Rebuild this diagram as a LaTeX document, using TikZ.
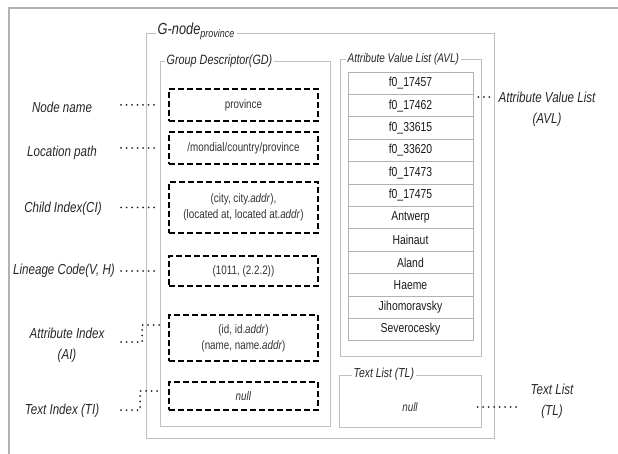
\documentclass[tikz,border=0pt]{standalone}
\usepackage{fontspec}
\setmainfont{Liberation Sans}[FakeStretch=0.8]
\usetikzlibrary{positioning,calc}

\begin{document}
\begin{tikzpicture}[x=1pt, y=-1pt,
    frame/.style={draw=gray!50, line width=1pt, inner sep=0pt},
    boxtitle/.style={fill=white, inner sep=2pt, anchor=west, text=black!85, font=\itshape\fontsize{13.5}{15}\selectfont},
    field/.style={draw, line width=1.5pt, dash pattern=on 6pt off 3pt, minimum width=149pt, inner sep=0pt, align=center, text=black!80, font=\fontsize{12.3}{16}\selectfont},
    cell/.style={draw=gray!60, line width=0.8pt, minimum width=125pt, minimum height=22.4pt, inner sep=0pt, text=black!90, font=\fontsize{13}{14}\selectfont},
    sidenote/.style={align=center, text=black!85, font=\itshape\fontsize{14.5}{21}\selectfont},
    dots/.style={line width=2pt, line cap=round, dash pattern=on 0pt off 5.5pt, black!85},
]
  \useasboundingbox (0,0) rectangle (618,454);
  \draw[gray!60, line width=1.2pt] (9,454) -- (9,8) -- (618,8);

  % container boxes
  \node[frame, minimum width=348pt, minimum height=404pt] (gnode) at (320,236) {};
  \node[frame, minimum width=170pt, minimum height=364pt] (gd) at (245,244) {};
  \node[frame, minimum width=141pt, minimum height=296pt] (avl) at (410.5,208) {};
  \node[frame, minimum width=142pt, minimum height=52pt] (tl) at (410,401) {};

  \node[boxtitle, font=\itshape\fontsize{16}{18}\selectfont] (gtitle) at ([xshift=10pt,yshift=2pt]gnode.north west) {G-node\textsubscript{province}};
  \node[boxtitle] (gdtitle) at ([xshift=5pt]gd.north west) {Group Descriptor(GD)};
  \node[boxtitle, font=\itshape\fontsize{12.5}{14}\selectfont] (avltitle) at ([xshift=6pt]avl.north west) {Attribute Value List (AVL)};
  \node[boxtitle, font=\itshape\fontsize{13}{14}\selectfont] (tltitle) at ([xshift=13pt]tl.north west) {Text List (TL)};

  % group descriptor fields
  \node[field, minimum height=32pt] (fname) at (243.5,105) {province};
  \node[field, minimum height=32pt] (fpath) at (243.5,148) {/mondial/country/province};
  \node[field, minimum height=51pt] (fchild) at (243.5,207.5) {(city, city.\textit{addr}),\\(located at, located at.\textit{addr})};
  \node[field, minimum height=30pt] (flineage) at (243.5,271) {(1011, (2.2.2))};
  \node[field, minimum height=46pt] (fattr) at (243.5,338) {(id, id.\textit{addr})\\(name, name.\textit{addr})};
  \node[field, minimum height=28pt] (ftext) at (243.5,396) {\textit{null}};

  % attribute value list
  \foreach \val [count=\i] in {f0\_17457, f0\_17462, f0\_33615, f0\_33620, f0\_17473, f0\_17475,
      Antwerp, Hainaut, Aland, Haeme, Jihomoravsky, Severocesky}
    \node[cell] (avl\i) at (410.5, 72+11.2+22.4*\i-22.4) {\val};

  \node[text=black!80, font=\itshape\fontsize{12.3}{14}\selectfont] (tlnull) at (410,407) {null};

  % side notes
  \node[sidenote] (lname) at (62,107) {Node name};
  \node[sidenote] (lpath) at (62,153) {Location path};
  \node[sidenote] (lchild) at (63,209) {Child Index(CI)};
  \node[sidenote] (llineage) at (64,271) {Lineage Code(V, H)};
  \node[sidenote] (lattr) at (67,345) {Attribute Index\\(AI)};
  \node[sidenote] (ltext) at (62,411) {Text Index (TI)};
  \node[sidenote] (lavl) at (547,109) {Attribute Value List\\(AVL)};
  \node[sidenote] (ltl) at (552,401) {Text List\\(TL)};

  \coordinate (dotstart) at (121,0);
  \draw[dots, shorten >=10pt] (fname.west -| dotstart) -- (fname.west);
  \draw[dots, shorten >=10pt] (fpath.west -| dotstart) -- (fpath.west);
  \draw[dots, shorten >=10pt] (fchild.west -| dotstart) -- (fchild.west);
  \draw[dots, shorten >=10pt] (flineage.west -| dotstart) -- (flineage.west);

  \coordinate (aibend) at (142,342);
  \draw[dots, shorten >=9pt] (aibend -| dotstart) -- (aibend) |- ([yshift=13pt]fattr.west);
  \coordinate (tibend) at (140,410);
  \draw[dots, shorten >=9pt] (tibend -| dotstart) -- (tibend) |- ([yshift=5pt]ftext.west);

  \draw[dots, shorten <=5pt, shorten >=4pt] ([yshift=-3pt]avl2.north east) -- ([yshift=-3pt]avl2.north east -| lavl.west);
  \draw[dots, shorten <=-4pt, shorten >=6pt] (tlnull -| tl.east) -- (tlnull -| ltl.west);
\end{tikzpicture}
\end{document}
